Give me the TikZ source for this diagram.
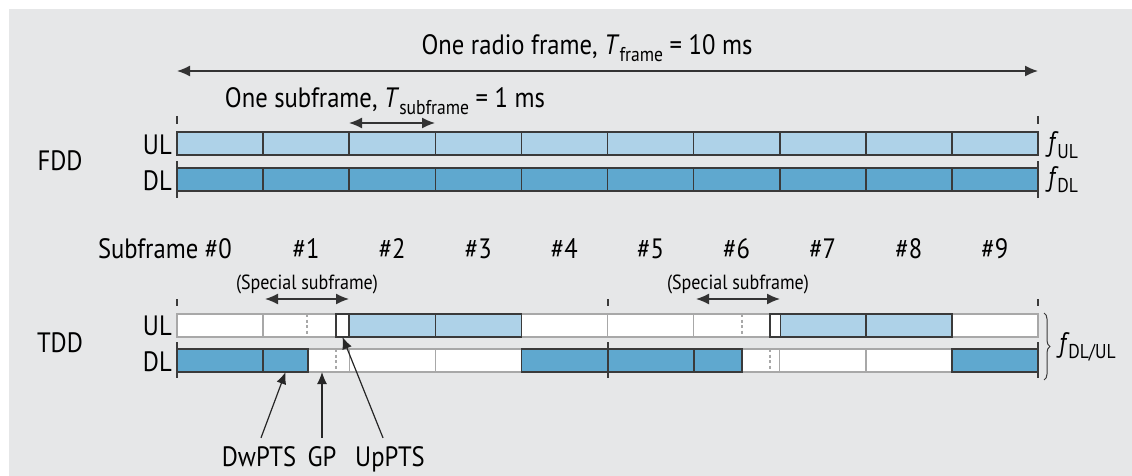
\documentclass[tikz,border=0pt]{standalone}
\usepackage{fontspec}
\setmainfont{PT Sans}[FakeStretch=0.88]
\usetikzlibrary{arrows.meta,decorations.pathreplacing}
\definecolor{panel}{HTML}{E6E7E8}
\definecolor{ulblue}{HTML}{AED2E8}
\definecolor{dlblue}{HTML}{5FA8CF}
\definecolor{edge}{HTML}{3A3A3A}
\definecolor{softedge}{HTML}{A8A8A8}
\newcommand\lowsub[1]{\raisebox{-6.5pt}{\fontsize{20}{20}\selectfont #1}}
\begin{document}
\begin{tikzpicture}[x=1pt,y=-1pt,
  big/.style={font=\fontsize{28}{30}\selectfont, inner sep=0pt},
  small/.style={font=\fontsize{20.5}{22}\selectfont, inner sep=0pt},
  tipline/.style={-{Latex[length=12pt,width=10pt]}, line width=1.2pt, draw=black!85},
  span/.style={{Latex[length=13pt,width=11pt]}-{Latex[length=13pt,width=11pt]}, line width=1.4pt, draw=black!80},
  cellbox/.style={draw=edge, line width=1.6pt, anchor=north west, minimum height=23pt, inner sep=0pt, outer sep=0pt},
  blank/.style={draw=softedge, line width=1.4pt, fill=white, anchor=north west, minimum height=23pt, inner sep=0pt, outer sep=0pt},
  sub/.style={minimum width=86.1pt},
  marker/.style={draw=edge, line width=1.2pt},
  guard/.style={draw=softedge, line width=1.1pt, dash pattern=on 3pt off 2.5pt},
]
\useasboundingbox (0,0) rectangle (1132,476);
\fill[white] (0,0) rectangle (1132,476);
\fill[panel] (9,9) rectangle (1132,476);

% ---- radio frame and subframe spans
\node[big, anchor=base] (title) at (587,55) {One radio frame, \textit{T}\lowsub{frame} = 10 ms};
\coordinate (fs) at (177,71);
\coordinate (fe) at (1038,71);
\draw[span] (fs) -- (fe);
\node[big, anchor=base] (subttl) at (385,108) {One subframe, \textit{T}\lowsub{subframe} = 1 ms};
\coordinate (ss) at (349,123);
\coordinate (se) at (435,123);
\draw[span] (ss) -- (se);

% ---- FDD
\foreach \i in {0,...,9} {
  \node[cellbox, sub, fill=ulblue] (fu\i) at ({177+86.1*\i},132) {};
  \node[cellbox, sub, fill=dlblue] (fd\i) at ({177+86.1*\i},168) {};
}
\foreach \x in {177,1038} {
  \draw[marker] (\x,116) -- (\x,124);
  \draw[marker] (\x,161) -- (\x,198);
}
\node[big, anchor=base] (fdd) at (60,170) {FDD};
\node[big, anchor=base east] (ful) at (172,154) {UL};
\node[big, anchor=base east] (fdl) at (172,190) {DL};
\node[big, anchor=base west] (ful2) at (1048,152) {\textit{f}\kern-1.5pt\lowsub{UL}};
\node[big, anchor=base west] (fdl2) at (1048,186) {\textit{f}\kern-1.5pt\lowsub{DL}};

% ---- subframe numbers
\node[big, anchor=base east] (n0) at (232,258) {Subframe \#0};
\foreach \i in {1,...,9}
  \node[big, anchor=base] (n\i) at ({220+86.1*\i},258) {\#\i};

% ---- TDD, uplink row
\foreach \i in {0,1,4,5,6,9}
  \node[blank, sub] (tu\i) at ({177+86.1*\i},314) {};
\draw[guard] (307,314) -- (307,337);
\draw[guard] (742,314) -- (742,337);
\foreach \i in {2,3,7,8}
  \node[cellbox, sub, fill=ulblue] (tu\i) at ({177+86.1*\i},314) {};
\node[cellbox, fill=white, minimum width=13pt] (up1) at (336,314) {};
\node[cellbox, fill=white, minimum width=10.5pt] (up6) at (770,314) {};

% ---- TDD, downlink row
\foreach \i in {1,2,3,6,7,8}
  \node[blank, sub] (td\i) at ({177+86.1*\i},349) {};
\draw[guard] (336,349) -- (336,372);
\draw[guard] (770,349) -- (770,372);
\foreach \i in {0,4,5,9}
  \node[cellbox, sub, fill=dlblue] (td\i) at ({177+86.1*\i},349) {};
\node[cellbox, fill=dlblue, minimum width=45pt] (dw1) at (263.1,349) {};
\node[cellbox, fill=dlblue, minimum width=48pt] (dw6) at (693.7,349) {};
\coordinate (gp1) at (322,372);

\foreach \x in {177,608,1038} {
  \draw[marker] (\x,299) -- (\x,306);
  \draw[marker] (\x,342) -- (\x,378);
}
\node[big, anchor=base] (tdd) at (60,352) {TDD};
\node[big, anchor=base east] (tul) at (172,335) {UL};
\node[big, anchor=base east] (tdl) at (172,371) {DL};
\draw[decorate, decoration={brace, amplitude=6pt}, line width=1pt, draw=edge] (1044,313) -- (1044,380);
\node[big, anchor=base west] (fdlul) at (1059,352) {\textit{f}\kern-1.5pt\lowsub{DL/UL}};

% ---- special subframes
\node[small, anchor=base] (sp1) at (307,289) {(Special subframe)};
\node[small, anchor=base] (sp6) at (738,289) {(Special subframe)};
\coordinate (sp1a) at (265,299);
\coordinate (sp1b) at (349,299);
\coordinate (sp6a) at (696,299);
\coordinate (sp6b) at (780,299);
\draw[span] (sp1a) -- (sp1b);
\draw[span] (sp6a) -- (sp6b);

% ---- field labels
\node[big, anchor=base] (dwl) at (259,466) {DwPTS};
\node[big, anchor=base] (gpl) at (322,466) {GP};
\node[big, anchor=base] (upl) at (390,466) {UpPTS};
\draw[tipline] ([yshift=8pt,xshift=2pt]dwl.north) -- (dw1.south);
\draw[tipline] ([yshift=8pt]gpl.north) -- (gp1);
\draw[tipline] ([yshift=8pt,xshift=-7pt]upl.north) -- (up1.south);
\end{tikzpicture}
\end{document}
